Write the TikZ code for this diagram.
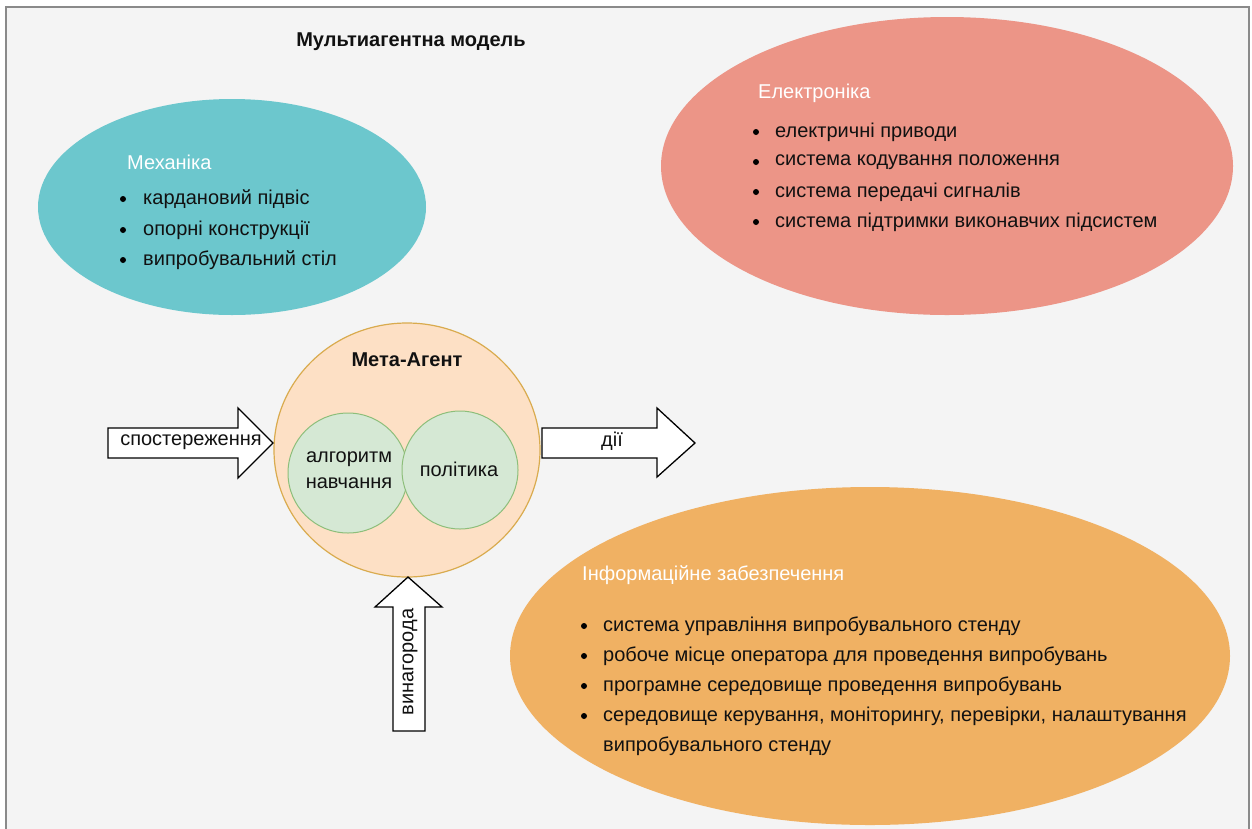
\documentclass[tikz,border=0pt]{standalone}
\usepackage{fontspec}
\setmainfont{Liberation Sans}
\usetikzlibrary{shapes.geometric}
\definecolor{bgc}{HTML}{F4F4F4}
\definecolor{framec}{HTML}{8A8A8A}
\definecolor{tealc}{HTML}{6CC7CD}
\definecolor{salmonc}{HTML}{EC9587}
\definecolor{orangec}{HTML}{F0B163}
\definecolor{peachc}{HTML}{FDE0C5}
\definecolor{goldc}{HTML}{D9AB4E}
\definecolor{greenf}{HTML}{D5E8D4}
\definecolor{greend}{HTML}{8DBE7A}
\definecolor{txt}{HTML}{111111}
\begin{document}
\begin{tikzpicture}[x=1pt,y=-1pt,
  lbl/.style={font=\fontsize{20}{24}\selectfont, text=txt, inner sep=0pt},
  hdr/.style={font=\fontsize{20}{24}\selectfont, text=white, anchor=west, inner sep=0pt},
  itm/.style={font=\fontsize{20}{24}\selectfont, text=txt, anchor=west, inner sep=0pt},
  dot/.style={circle, fill=black, inner sep=0pt, minimum size=6pt},
  blockarrow/.style={draw=black, fill=white, line width=1.3pt, line join=miter},
  gcirc/.style={ellipse, draw=greend, fill=greenf, line width=1pt, inner sep=0pt}
]
\useasboundingbox (0,0) rectangle (1252,828);
\fill[white] (0,0) rectangle (1252,828);
\draw[fill=bgc, draw=framec, line width=1.5pt] (6,7) rectangle (1249,840);

% title
\node[lbl, font=\fontsize{20}{24}\selectfont\bfseries] (title) at (411,42) {Мультиагентна модель};

% Механіка
\fill[tealc] (232,207) ellipse [x radius=194, y radius=108];
\node[hdr] (mech) at (127,162) {Механіка};
\node[dot] (m1d) at (123,199) {};
\node[itm] (m1) at (143,199) {кардановий підвіс};
\node[dot] (m2d) at (123,230) {};
\node[itm] (m2) at (143,230) {опорні конструкції};
\node[dot] (m3d) at (123,260) {};
\node[itm] (m3) at (143,260) {випробувальний стіл};

% Електроніка
\fill[salmonc] (947,166) ellipse [x radius=286, y radius=149];
\node[hdr] (elec) at (758,93) {Електроніка};
\node[dot] (e1d) at (756,132) {};
\node[itm] (e1) at (775,132) {електричні приводи};
\node[dot] (e2d) at (756,162) {};
\node[itm] (e2) at (775,162) {система кодування положення};
\node[dot] (e3d) at (756,192) {};
\node[itm] (e3) at (775,192) {система передачі сигналів};
\node[dot] (e4d) at (756,222) {};
\node[itm] (e4) at (775,222) {система підтримки виконавчих підсистем};

% Інформаційне забезпечення
\fill[orangec] (870,656) ellipse [x radius=360, y radius=169];
\node[hdr] (info) at (582,575) {Інформаційне забезпечення};
\node[dot] (i1d) at (584,626) {};
\node[itm] (i1) at (603,626) {система управління випробувального стенду};
\node[dot] (i2d) at (584,656) {};
\node[itm] (i2) at (603,656) {робоче місце оператора для проведення випробувань};
\node[dot] (i3d) at (584,686) {};
\node[itm] (i3) at (603,686) {програмне середовище проведення випробувань};
\node[dot] (i4d) at (584,716) {};
\node[itm] (i4) at (603,716) {середовище керування, моніторингу, перевірки, налаштування};
\node[itm] (i5) at (603,746) {випробувального стенду};

% Мета-Агент
\draw[fill=peachc, draw=goldc, line width=1.2pt] (407,450) ellipse [x radius=133, y radius=127];
\node[lbl, font=\fontsize{20}{24}\selectfont\bfseries] (meta) at (407,360) {Мета-Агент};
\node[gcirc, minimum width=120pt, minimum height=120pt] (alg) at (348,473) {};
\node[gcirc, minimum width=116pt, minimum height=118pt] (pol) at (460,470) {};
\node[lbl, align=center, font=\fontsize{20}{26}\selectfont] (algt) at (349,470) {алгоритм\\навчання};
\node[lbl] (polt) at (459,469) {політика};

% block arrows
\draw[blockarrow] (108,428) -- (238,428) -- (238,408) -- (273,443) -- (238,478) -- (238,458) -- (108,458) -- cycle;
\node[lbl] (obs) at (191,442) {спостереження};
\draw[blockarrow] (542,428) -- (657,428) -- (657,408) -- (695,443) -- (657,477) -- (657,458) -- (542,458) -- cycle;
\node[lbl] (act) at (612,441) {дії};
\draw[blockarrow] (408,577) -- (442,607) -- (425,607) -- (425,731) -- (393,731) -- (393,607) -- (375,607) -- cycle;
\node[lbl, rotate=90] (rew) at (410,662) {винагорода};
\end{tikzpicture}
\end{document}
